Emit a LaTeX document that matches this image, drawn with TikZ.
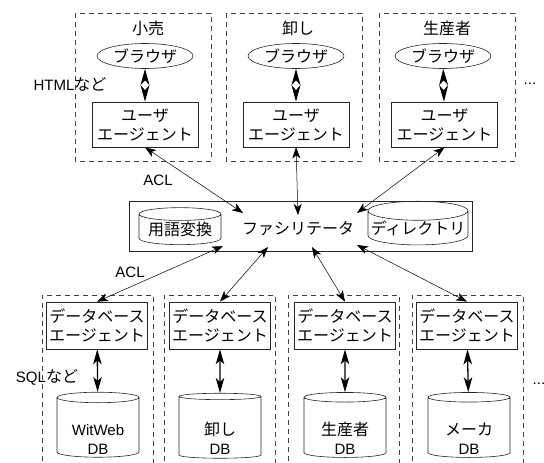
\documentclass[tikz,border=0pt]{standalone}
\usepackage{fontspec}
\setmainfont{Noto Sans CJK JP}
\newfontfamily\lat[Scale=0.94]{Liberation Sans}
\usetikzlibrary{arrows.meta,shapes.geometric}
\newcommand{\dbtext}[1]{\raisebox{-14pt}[\height][\depth]{\begin{tabular}{@{}c@{}}#1\end{tabular}}}

\begin{document}
\begin{tikzpicture}[x=1pt,y=-1pt,semithick,
                    font=\fontsize{16}{19}\selectfont]
  \tikzstyle{group}=[draw=black!75,dash pattern=on 5pt off 4pt,line width=0.6pt]
  \tikzstyle{agent}=[draw=black!85,line width=0.7pt,align=center,minimum width=106pt,minimum height=45pt,inner sep=0pt]
  \tikzstyle{browser}=[draw=black!85,ellipse,line width=0.6pt,minimum width=96pt,minimum height=25pt,inner sep=0pt]
  \tikzstyle{store}=[draw=black!85,cylinder,shape border rotate=90,aspect=0.2,line width=0.6pt,align=center,inner sep=0pt]
  \tikzstyle{acl}=[line width=0.5pt,{Stealth[length=11pt,width=8pt,inset=3pt]}-{Stealth[length=11pt,width=8pt,inset=3pt]}]
  \tikzstyle{html}=[draw=white,line width=1pt,{Stealth[length=16.5pt,width=9pt,inset=5pt,color=black]}-{Stealth[length=16.5pt,width=9pt,inset=5pt,color=black]}]
  \tikzstyle{sql}=[line width=1.3pt,{Stealth[length=15pt,width=8.5pt,inset=4pt]}-{Stealth[length=15pt,width=8.5pt,inset=4pt]}]
\useasboundingbox (0,0) rectangle (544,463);

% users
\draw [group] (75,13) rectangle (211,161);
\draw [group] (226,13) rectangle (362,161);
\draw [group] (379,13) rectangle (515,161);
\node (t1) at (148,28) {小売};
\node (t2) at (298,28) {卸し};
\node (t3) at (447,28) {生産者};
\node [browser] (b1) at (145,56) {ブラウザ};
\node [browser] (b2) at (296,56) {ブラウザ};
\node [browser] (b3) at (443,56) {ブラウザ};
\node [agent] (u1) at (145,124.5) {ユーザ\\エージェント};
\node [agent] (u2) at (296,124.5) {ユーザ\\エージェント};
\node [agent] (u3) at (444.5,124.5) {ユーザ\\エージェント};
\node (html) at (70,84) {{\lat HTML}など};
\node (more1) at (530,84) {\lat ...};

\path (b1) edge [html] (u1)
      (b2) edge [html] (u2)
      (b3) edge [html] (u3);

% facilitator
\node [draw=black!85,line width=0.7pt,minimum width=343pt,minimum height=50pt,inner sep=0pt] (fac) at (300.5,226) {};
\node (fname) at (298,229) {ファシリテータ};
\node [store,minimum width=82pt,minimum height=37pt] (conv) at (180,229.5) {用語変換};
\node [store,minimum width=100pt,minimum height=42pt] (dir) at (418,228) {ディレクトリ};
\coordinate (f1) at (243,213);
\coordinate (f2) at (298,215);
\coordinate (f3) at (357,213);
\coordinate (f4) at (223,246);
\coordinate (f5) at (268,247);
\coordinate (f6) at (312,247);
\coordinate (f7) at (357,245);

\path (u1.south) edge [acl] (f1)
      (u2.south) edge [acl] (f2)
      (u3.south) edge [acl] (f3);
\node (acl1) at (158,180) {\lat ACL};

% databases
\draw [group] (42,470) -- (42,295) -- (153,295) -- (153,470);
\draw [group] (164,470) -- (164,295) -- (275,295) -- (275,470);
\draw [group] (288,470) -- (288,295) -- (399,295) -- (399,470);
\draw [group] (412,470) -- (412,295) -- (523,295) -- (523,470);
\node [agent,minimum width=101pt,minimum height=47pt] (d1) at (97,325.5) {データベース\\エージェント};
\node [agent,minimum width=101pt,minimum height=47pt] (d2) at (220,325.5) {データベース\\エージェント};
\node [agent,minimum width=101pt,minimum height=47pt] (d3) at (345,325.5) {データベース\\エージェント};
\node [agent,minimum width=101pt,minimum height=47pt] (d4) at (467,325.5) {データベース\\エージェント};
\node [store,minimum width=82pt,minimum height=65pt] (db1) at (98,427.5) {\dbtext{\lat WitWeb\\\lat DB}};
\node [store,minimum width=82pt,minimum height=65pt] (db2) at (220,427.5) {\dbtext{卸し\\\lat DB}};
\node [store,minimum width=82pt,minimum height=65pt] (db3) at (345,427.5) {\dbtext{生産者\\\lat DB}};
\node [store,minimum width=82pt,minimum height=65pt] (db4) at (469,427.5) {\dbtext{メーカ\\\lat DB}};
\node (sql) at (47,377) {{\lat SQL}など};
\node (more2) at (539,384) {\lat ...};

\path (f4) edge [acl] (d1.north)
      (f5) edge [acl] (d2.north)
      (f6) edge [acl] (d3.north)
      (f7) edge [acl] (d4.north);
\node (acl2) at (130,272) {\lat ACL};

\path (d1) edge [sql] (db1)
      (d2) edge [sql] (db2)
      (d3) edge [sql] (db3)
      (d4) edge [sql] (db4);

\end{tikzpicture}
\end{document}
